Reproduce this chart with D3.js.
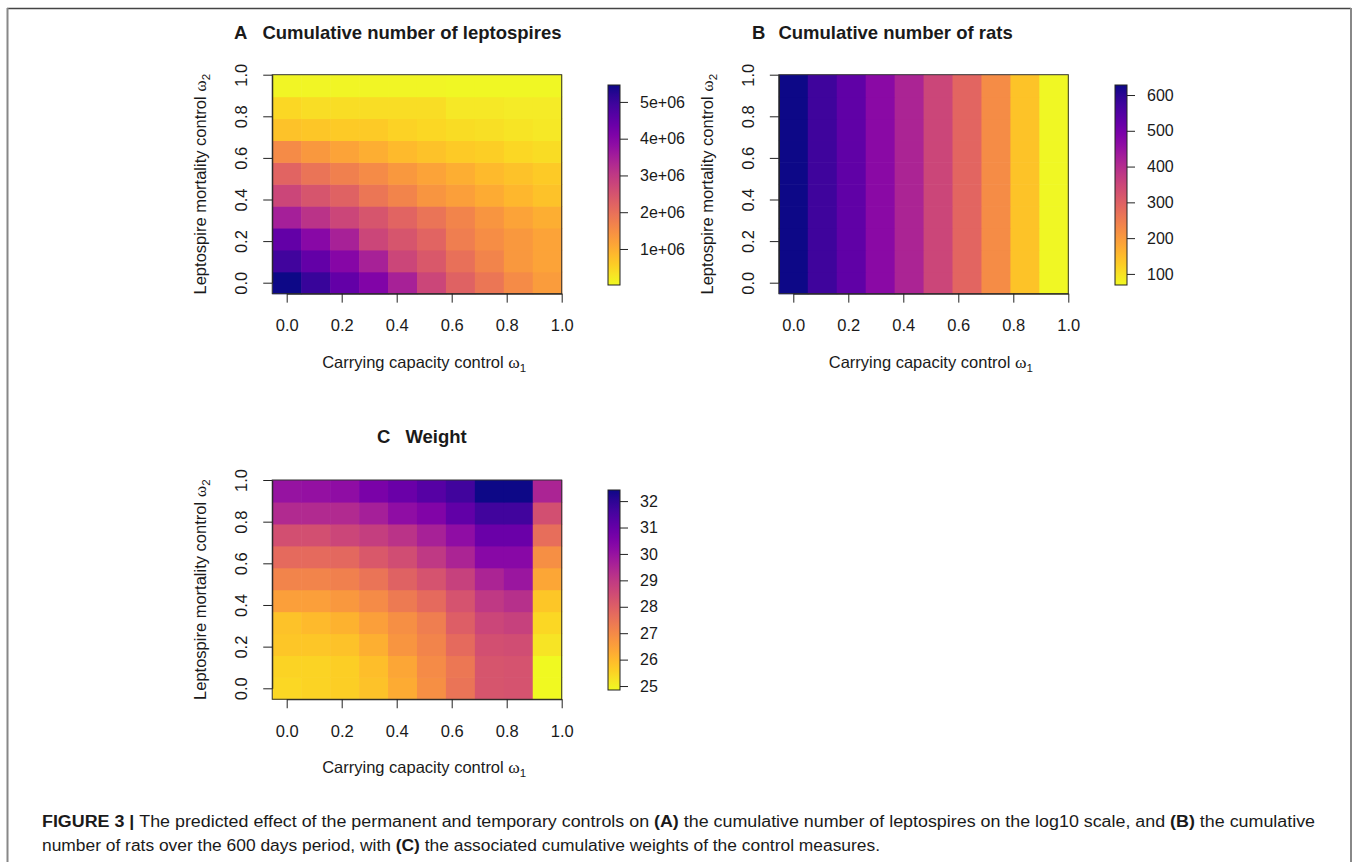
<!DOCTYPE html>
<html>
<head>
<meta charset="utf-8">
<script src="https://cdn.jsdelivr.net/npm/d3@7"></script>
<style>
  body { margin: 0; background: #fff; }
  svg text { font-family: "Liberation Sans", Arial, Helvetica, sans-serif; fill: #1a1a1a; }
</style>
</head>
<body>
<div id="chart"></div>
<script>
// ---- data ----
const omegaTicks = [0, 0.2, 0.4, 0.6, 0.8, 1.0];
const cellIndex = d3.range(10);           // 10 x 10 control grid
const cellExtent = [-0.0526, 1.0];        // grid extent in omega units

// A: cumulative leptospires (millions); rows = omega2 low -> high, cols = omega1 low -> high
const leptospires = [
  [5.46, 5.02, 4.48, 4.05, 3.45, 2.74, 2.25, 1.87, 1.54, 1.27],
  [4.92, 4.48, 3.99, 3.45, 2.74, 2.41, 1.98, 1.65, 1.33, 1.16],
  [4.48, 3.94, 3.45, 2.74, 2.47, 2.20, 1.76, 1.49, 1.33, 1.16],
  [3.50, 3.12, 2.74, 2.47, 2.20, 1.92, 1.65, 1.38, 1.16, 1.00],
  [2.74, 2.47, 2.25, 1.87, 1.65, 1.38, 1.22, 1.05, 0.89, 0.73],
  [2.20, 1.92, 1.71, 1.54, 1.33, 1.16, 1.00, 0.84, 0.73, 0.62],
  [1.54, 1.33, 1.16, 1.00, 0.84, 0.73, 0.62, 0.56, 0.46, 0.40],
  [0.73, 0.67, 0.62, 0.62, 0.51, 0.46, 0.40, 0.35, 0.29, 0.24],
  [0.46, 0.37, 0.37, 0.37, 0.37, 0.37, 0.24, 0.24, 0.21, 0.21],
  [0.08, 0.08, 0.07, 0.07, 0.07, 0.07, 0.06, 0.06, 0.06, 0.06]
];
const leptoRange = [0.02, 5.46];
const leptoTicks = [1, 2, 3, 4, 5];
const leptoTickLabels = ["1e+06", "2e+06", "3e+06", "4e+06", "5e+06"];

// B: cumulative rats, by omega1 only
const rats = [626, 574, 530, 470, 415, 350, 290, 222, 140, 72];
const ratRange = [69, 628];
const ratTicks = [100, 200, 300, 400, 500, 600];

// C: weight
const weights = [
  [25.46, 25.53, 25.61, 25.83, 26.29, 26.89, 27.50, 28.26, 28.33, 24.85],
  [25.53, 25.53, 25.61, 25.91, 26.36, 26.97, 27.42, 28.26, 28.33, 24.85],
  [25.76, 25.76, 25.83, 26.21, 26.74, 27.12, 27.73, 28.41, 28.48, 25.23],
  [25.83, 25.99, 26.14, 26.52, 26.89, 27.27, 28.03, 28.64, 28.79, 25.46],
  [26.52, 26.52, 26.67, 26.97, 27.35, 27.73, 28.33, 29.01, 29.24, 25.76],
  [27.12, 27.12, 27.20, 27.50, 27.95, 28.33, 28.79, 29.54, 29.92, 26.36],
  [27.73, 27.73, 27.80, 28.18, 28.48, 29.01, 29.54, 30.30, 30.30, 26.89],
  [28.41, 28.41, 28.64, 28.86, 29.16, 29.62, 30.15, 30.91, 30.91, 27.65],
  [29.39, 29.39, 29.39, 29.69, 30.15, 30.45, 31.06, 31.66, 31.66, 28.41],
  [30.00, 30.07, 30.15, 30.60, 30.91, 31.28, 31.66, 32.42, 32.42, 29.54]
];
const weightRange = [24.85, 32.42];
const weightTicks = [25, 26, 27, 28, 29, 30, 31, 32];

const W = 1358, H = 862;
const FS = 16.5;
const svg = d3.select("#chart").append("svg")
  .attr("width", W).attr("height", H)
  .attr("viewBox", `0 0 ${W} ${H}`);

const defs = svg.append("defs");

function colorFor(range){
  // plasma, reversed: max -> dark blue, min -> yellow
  return d3.scaleSequential(d3.interpolatePlasma).domain([range[1], range[0]]);
}

function panel(p){
  const x = d3.scaleLinear().domain([0, 1]).range([p.x0, p.x1]);
  const y = d3.scaleLinear().domain([0, 1]).range([p.y0, p.y1]);
  const bx = d3.scaleBand().domain(cellIndex).range([x(cellExtent[0]), x(cellExtent[1])]);
  const by = d3.scaleBand().domain(cellIndex).range([y(cellExtent[0]), y(cellExtent[1])]);
  const col = colorFor(p.range);
  const g = svg.append("g");

  const cells = [];
  p.matrix.forEach((row, r) => row.forEach((v, c) => cells.push({r, c, v})));
  g.selectAll("rect.cell").data(cells).join("rect")
    .attr("class", "cell")
    .attr("x", d => bx(d.c))
    .attr("y", d => by(d.r))
    .attr("width", bx.bandwidth() + 0.6)
    .attr("height", by.bandwidth() + 0.6)
    .attr("fill", d => col(d.v));

  g.append("rect")
    .attr("x", x(cellExtent[0])).attr("y", y(cellExtent[1]))
    .attr("width", x(cellExtent[1]) - x(cellExtent[0]))
    .attr("height", y(cellExtent[0]) - y(cellExtent[1]))
    .attr("fill", "none").attr("stroke", "#333").attr("stroke-width", 1);

  const fmt = d3.format(".1f");
  const xa = g.append("g").attr("transform", `translate(0,${y(cellExtent[0])})`)
    .call(d3.axisBottom(x).tickValues(omegaTicks).tickFormat(fmt)
      .tickSizeInner(9).tickSizeOuter(0).tickPadding(17));
  const ya = g.append("g").attr("transform", `translate(${x(cellExtent[0])},0)`)
    .call(d3.axisLeft(y).tickValues(omegaTicks).tickFormat(fmt)
      .tickSizeInner(9).tickSizeOuter(0));
  ya.selectAll(".tick text")
    .attr("x", null).attr("dy", "0.35em")
    .attr("transform", "translate(-31,0) rotate(-90)")
    .attr("text-anchor", "middle");
  [xa, ya].forEach(a => {
    a.selectAll("text").attr("font-size", FS).attr("fill", "#1a1a1a");
    a.selectAll("line, path").attr("stroke", "#222");
    a.attr("font-family", null);
  });

  // axis titles
  const xt = g.append("text")
    .attr("x", (p.x0 + p.x1) / 2).attr("y", p.xTitleY)
    .attr("text-anchor", "middle").attr("font-size", FS);
  xt.append("tspan").text("Carrying capacity control ");
  xt.append("tspan").attr("font-family", "'Liberation Serif', serif").attr("font-size", FS + 1).text("ω");
  xt.append("tspan").attr("font-size", 11.5).attr("dy", 4).text("1");

  const yc = (y(cellExtent[0]) + y(cellExtent[1])) / 2;
  const yt = g.append("text")
    .attr("transform", `translate(${p.yTitleX},${yc}) rotate(-90)`)
    .attr("dy", "0.35em")
    .attr("text-anchor", "middle").attr("font-size", FS);
  yt.append("tspan").text("Leptospire mortality control ");
  yt.append("tspan").attr("font-family", "'Liberation Serif', serif").attr("font-size", FS + 1).text("ω");
  yt.append("tspan").attr("font-size", 11.5).attr("dy", 4).text("2");

  // title
  const tt = g.append("text").attr("x", p.titleX).attr("y", p.titleY)
    .attr("font-size", 18.5).attr("font-weight", "bold");
  tt.append("tspan").text(p.letter);
  tt.append("tspan").attr("dx", p.titleGap).text(p.title);

  // colour bar
  const cb = p.bar;
  const gid = "grad" + p.letter;
  const grad = defs.append("linearGradient").attr("id", gid)
    .attr("x1", 0).attr("y1", 1).attr("x2", 0).attr("y2", 0);
  d3.range(0, 1.0001, 0.05).forEach(t => {
    grad.append("stop").attr("offset", t)
      .attr("stop-color", col(p.range[0] + t * (p.range[1] - p.range[0])));
  });
  const cy = d3.scaleLinear().domain(p.range).range([cb.y1, cb.y0]);
  g.append("rect").attr("x", cb.x).attr("y", cb.y0)
    .attr("width", cb.w).attr("height", cb.y1 - cb.y0)
    .attr("fill", `url(#${gid})`).attr("stroke", "#222").attr("stroke-width", 1);
  const ca = g.append("g").attr("transform", `translate(${cb.x + cb.w},0)`)
    .call(d3.axisRight(cy).tickValues(p.ticks)
      .tickFormat((d, i) => p.tickLabels ? p.tickLabels[i] : d)
      .tickSizeInner(8).tickSizeOuter(0).tickPadding(12));
  ca.select(".domain").remove();
  ca.attr("font-family", null);
  ca.selectAll("text").attr("font-size", 16).attr("fill", "#1a1a1a");
  ca.selectAll("line").attr("stroke", "#222");
}

panel({
  letter: "A", title: "Cumulative number of leptospires",
  matrix: leptospires, range: leptoRange, ticks: leptoTicks, tickLabels: leptoTickLabels,
  x0: 286.7, x1: 561.7, y0: 282.7, y1: 74.7,
  titleX: 234, titleY: 39, titleGap: 15,
  xTitleY: 368, yTitleX: 200,
  bar: {x: 608, w: 12, y0: 85, y1: 285}
});

panel({
  letter: "B", title: "Cumulative number of rats",
  matrix: cellIndex.map(() => rats), range: ratRange, ticks: ratTicks,
  x0: 793.3, x1: 1068.3, y0: 282.7, y1: 74.7,
  titleX: 752, titleY: 39, titleGap: 13,
  xTitleY: 368, yTitleX: 707,
  bar: {x: 1115, w: 12, y0: 85, y1: 285}
});

panel({
  letter: "C", title: "Weight",
  matrix: weights, range: weightRange, ticks: weightTicks,
  x0: 286.7, x1: 561.7, y0: 688.3, y1: 480,
  titleX: 377, titleY: 443, titleGap: 15,
  xTitleY: 773, yTitleX: 200,
  bar: {x: 608, w: 12, y0: 490, y1: 690}
});

// ---- frame + caption ----
svg.append("line").attr("x1", 7).attr("x2", 1351).attr("y1", 8.5).attr("y2", 8.5)
  .attr("stroke", "#444").attr("stroke-width", 1.5);
svg.append("line").attr("x1", 7.5).attr("x2", 7.5).attr("y1", 8).attr("y2", H)
  .attr("stroke", "#888").attr("stroke-width", 2);
svg.append("line").attr("x1", 1351).attr("x2", 1351).attr("y1", 8).attr("y2", H)
  .attr("stroke", "#888").attr("stroke-width", 2);

const captionLines = [
  [["FIGURE 3 | ", true], ["The predicted effect of the permanent and temporary controls on ", false], ["(A)", true],
   [" the cumulative number of leptospires on the log10 scale, and ", false], ["(B)", true], [" the cumulative", false]],
  [["number of rats over the 600 days period, with ", false], ["(C)", true],
   [" the associated cumulative weights of the control measures.", false]]
];
const captionWidths = [1273, 838];
captionLines.forEach((parts, i) => {
  const t = svg.append("text")
    .attr("x", 42).attr("y", 827 + i * 24)
    .attr("font-size", 16)
    .style("font-family", "'Liberation Sans Narrow', 'Liberation Sans', Arial, sans-serif")
    .attr("textLength", captionWidths[i]).attr("lengthAdjust", "spacingAndGlyphs")
    .attr("fill", "#2b2b2b");
  parts.forEach(([s, b]) => t.append("tspan").attr("font-weight", b ? "bold" : null).text(s));
});
</script>
</body>
</html>
